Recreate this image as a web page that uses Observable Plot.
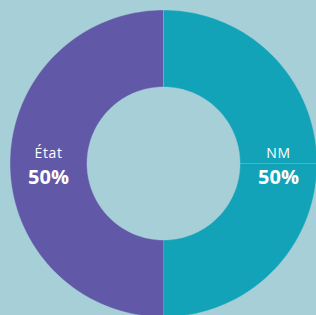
<!DOCTYPE html>
<html>
<head>
<meta charset="utf-8">
<script src="https://cdn.jsdelivr.net/npm/d3@7"></script>
<script src="https://cdn.jsdelivr.net/npm/@observablehq/plot@0.6"></script>
<style>
  html, body { margin: 0; padding: 0; background: #a6cfd8; overflow: hidden; }
  #chart svg { display: block; }
</style>
</head>
<body>
<div id="chart"></div>
<script>
// Data
const categories = ["NM", "État"];
const values = [50, 50];
const colors = ["#13a3b8", "#6258a8"];

const R_OUT = 153.5, R_IN = 76.5;
const total = d3.sum(values);

// Build slice polygons from the data (clockwise from top)
const slices = [];
const labels = [];
let acc = 0;
categories.forEach((c, i) => {
  const a0 = acc / total * 2 * Math.PI;
  acc += values[i];
  const a1 = acc / total * 2 * Math.PI;
  const n = 120;
  const pts = [];
  for (let k = 0; k <= n; k++) {
    const a = a0 + (a1 - a0) * k / n;
    pts.push({cat: c, x: R_OUT * Math.sin(a), y: R_OUT * Math.cos(a)});
  }
  for (let k = n; k >= 0; k--) {
    const a = a0 + (a1 - a0) * k / n;
    pts.push({cat: c, x: R_IN * Math.sin(a), y: R_IN * Math.cos(a)});
  }
  slices.push(...pts);
  const am = (a0 + a1) / 2;
  const rm = (R_IN + R_OUT) / 2;
  labels.push({cat: c, pct: Math.round(values[i] / total * 100) + "%", x: rm * Math.sin(am), y: rm * Math.cos(am)});
});

const sep = [{x1: R_IN, x2: R_OUT, y: 0}];

const plot = Plot.plot({
  width: 316,
  height: 315,
  margin: 0,
  style: {background: "#a6cfd8", fontFamily: "'Open Sans', sans-serif"},
  x: {domain: [-163, 153], range: [0, 316], axis: null},
  y: {domain: [-152, 163], range: [315, 0], axis: null},
  color: {domain: categories, range: colors},
  marks: [
    Plot.line(slices, {x: "x", y: "y", z: "cat", fill: "cat", stroke: "#a6cfd8", strokeWidth: 0.6, strokeOpacity: 0.7}),
    Plot.link(sep, {x1: "x1", x2: "x2", y1: "y", y2: "y", stroke: "#ffffff", strokeOpacity: 0.22, strokeWidth: 1}),
    Plot.text(labels, {x: "x", y: "y", text: "cat", dy: -10, fill: "white", fontSize: 14}),
    Plot.text(labels, {x: "x", y: "y", text: "pct", dy: 14, fill: "white", fontSize: 20, fontWeight: "bold"})
  ]
});
plot.querySelectorAll("text").forEach(t => {
  if (t.textContent === "NM" || t.textContent === "État") t.style.letterSpacing = "0.6px";
});
document.getElementById("chart").appendChild(plot);
</script>
</body>
</html>
